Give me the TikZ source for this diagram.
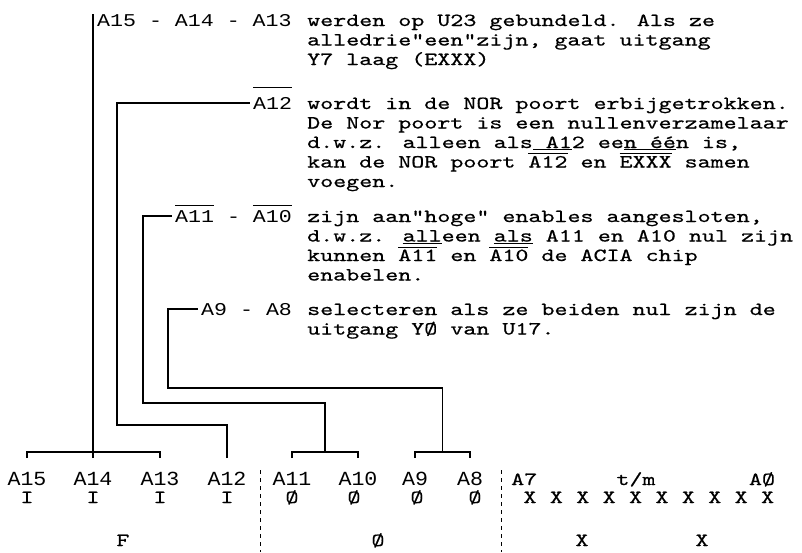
\documentclass[tikz,border=0pt]{standalone}
\usepackage{fontspec}
\usetikzlibrary{calc}

\newfontfamily\typefont{lmmono10-regular.otf}[FakeStretch=1.34, FakeBold=0.6]
\newfontfamily\gothfont{Liberation Mono}[FakeStretch=1.2]
\newfontfamily\bitfont{Liberation Mono}[FakeStretch=1.08]

% streep boven een signaalnaam
\newsavebox\olbox
\newcommand\ovl[2][2pt]{\sbox\olbox{#2}%
  \rlap{\raisebox{\dimexpr\ht\olbox+#1\relax}[0pt][0pt]{\rule{\wd\olbox}{0.9pt}}}%
  \usebox\olbox}
% regels onder elkaar, basislijn op de eerste regel
\newcommand\regels[1]{\begin{tabular}[t]{@{}l@{}}#1\end{tabular}}

\begin{document}
\begin{tikzpicture}[
    x=1pt, y=-1pt,
    txt/.style={anchor=base west, inner sep=0pt,
                font=\typefont\fontsize{18.5}{19.5}\selectfont},
    lbl/.style={anchor=base west, inner xsep=3pt, inner ysep=0pt,
                font=\gothfont\fontsize{18}{19.5}\selectfont},
    bit/.style={anchor=base, inner sep=0pt,
                font=\typefont\fontsize{18.5}{19.5}\selectfont},
    addr/.style={anchor=base, inner sep=0pt,
                font=\bitfont\fontsize{20}{20}\selectfont},
    wire/.style={line width=1.8pt},
    sepline/.style={line width=0.9pt, dash pattern=on 4pt off 4pt}
]
\useasboundingbox (0,0) rectangle (802,552);

% tekstblokken
\node[lbl] (l1) at (94,26) {A15 - A14 - A13};
\node[txt] (t1) at (307,26) {\regels{werden op U23 gebundeld. Als ze\\
  alledrie"een"zijn, gaat uitgang\\
  Y7 laag (EXXX)}};

\node[lbl] (l2) at (250,109) {\ovl[9pt]{A12}};
\node[txt] (t2) at (307,109) {\regels{wordt in de NOR poort erbijgetrokken.\\
  De Nor poort is een nullenverzamelaar\\
  d.w.z. alleen als\underline{\ A1}2 ee\underline{n éé}n is,\\
  kan de NOR poort \ovl{A12} en \ovl{EXXX} samen\\
  voegen.}};

\node[lbl] (l3) at (172,222) {\ovl[4pt]{A11} - \ovl[4pt]{A10}};
\node[txt] (t3) at (307,222) {\regels{zijn aan"hoge" enables aangesloten,\\
  d.w.z. \underline{all}een \underline{als} A11 en A10 nul zijn\\
  kunnen \ovl{A11} en \ovl{A10} de ACIA chip\\
  enabelen.}};

\node[lbl] (l4) at (198,315) {A9 - A8};
\node[txt] (t4) at (307,315) {\regels{selecteren als ze beiden nul zijn de\\
  uitgang YØ van U17.}};

% adresbits
\node[addr] (a15) at (27,485) {A15};
\node[addr] (a14) at (93,485) {A14};
\node[addr] (a13) at (160,485) {A13};
\node[addr] (a12) at (227,485) {A12};
\node[addr] (a11) at (292,485) {A11};
\node[addr] (a10) at (358,485) {A10};
\node[addr] (a9) at (415,485) {A9};
\node[addr] (a8) at (470,485) {A8};
\node[bit, anchor=base west] (a7) at (511,485) {A7};
\node[bit] (tm) at (636,485) {t/m};
\node[bit] (a0) at (762,485) {AØ};

\node[bit] (v15) at (27,503) {I};
\node[bit] (v14) at (93,503) {I};
\node[bit] (v13) at (160,503) {I};
\node[bit] (v12) at (227,503) {I};
\node[bit] (v11) at (292,503) {Ø};
\node[bit] (v10) at (354,503) {Ø};
\node[bit] (v9) at (417,503) {Ø};
\node[bit] (v8) at (475,503) {Ø};
\foreach \i in {0,...,9}
  \node[bit] (x\i) at (530+26.4*\i,503) {X};

\node[bit] (grpF) at (123,546) {F};
\node[bit] (grp0) at (378,546) {Ø};
\node[bit] (grpX1) at (582,546) {X};
\node[bit] (grpX2) at (702,546) {X};

% scheidingen
\draw[sepline] (260,470) -- (260,552);
\draw[sepline] (501,470) -- (501,552);

% verbindingen
\coordinate (br) at (0,452);
\coordinate (tk) at (0,458);

\draw[wire] (a15 |- tk) -- (a15 |- br) -- (a13 |- br) -- (a13 |- tk);
\draw[wire] (a14 |- tk) -- (a14 |- l1.north);

\draw[wire] (a12 |- tk) |- (117,425) |- (l2.west);

\draw[wire] (a11 |- tk) -- (a11 |- br) -- (a10 |- br) -- (a10 |- tk);
\coordinate (m3) at ($(a11 |- br)!.5!(a10 |- br)$);
\draw[wire] (m3) |- (143,403) |- (l3.west);

\draw[wire] (a9 |- tk) -- (a9 |- br) -- (a8 |- br) -- (a8 |- tk);
\coordinate (m4) at ($(a9 |- br)!.5!(a8 |- br)$);
\draw[wire] (m4) |- (168,388) |- (l4.west);

\end{tikzpicture}
\end{document}
